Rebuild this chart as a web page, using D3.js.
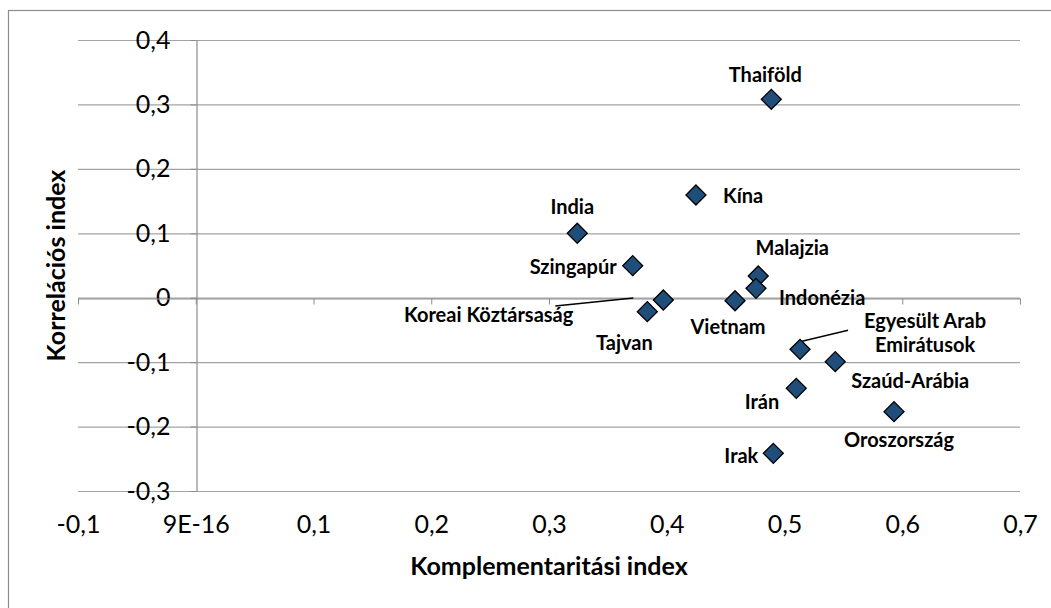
<!DOCTYPE html>
<html>
<head>
<meta charset="utf-8">
<script src="https://cdn.jsdelivr.net/npm/d3@7/dist/d3.min.js"></script>
<style>
  body { margin: 0; background: #fff; }
  svg { display: block; font-family: "Lato", "Open Sans", sans-serif; }
  .tickText text { font-size: 25px; fill: #000; }
  .lbl { font-size: 20px; font-weight: bold; fill: #000; }
  .axTitle { font-size: 25px; font-weight: bold; fill: #000; }
</style>
</head>
<body>
<div id="chart"></div>
<script>
// data
const countries = ["Thaiföld", "Kína", "India", "Szingapúr", "Koreai Köztársaság", "Tajvan",
  "Malajzia", "Indonézia", "Vietnam", "Egyesült Arab Emirátusok", "Szaúd-Arábia", "Irán",
  "Oroszország", "Irak"];
const complementarity = [0.4888, 0.4248, 0.324, 0.3711, 0.3971, 0.3835,
  0.4777, 0.4758, 0.458, 0.5132, 0.5431, 0.51, 0.593, 0.4905];
const correlation = [0.3079, 0.1594, 0.1, 0.0497, -0.0036, -0.0217,
  0.0337, 0.0146, -0.0047, -0.0801, -0.0993, -0.1406, -0.1769, -0.2415];

const xTicks = [-0.1, 0, 0.1, 0.2, 0.3, 0.4, 0.5, 0.6, 0.7];
const xTickLabels = ["-0,1", "9E-16", "0,1", "0,2", "0,3", "0,4", "0,5", "0,6", "0,7"];
const yTicks = [-0.3, -0.2, -0.1, 0, 0.1, 0.2, 0.3, 0.4];
const yTickLabels = ["-0,3", "-0,2", "-0,1", "0", "0,1", "0,2", "0,3", "0,4"];

// label placement relative to each marker: [dx, dy, anchor]
const labelPos = {
  "Thaiföld": [-6, -17, "middle"],
  "Kína": [27, 8, "start"],
  "India": [-5, -19, "middle"],
  "Szingapúr": [-16, 8, "end"],
  "Koreai Köztársaság": [-90, 22, "end"],
  "Tajvan": [-23, 38, "middle"],
  "Malajzia": [34, -21, "middle"],
  "Indonézia": [23, 17, "start"],
  "Vietnam": [-7, 33, "middle"],
  "Egyesült Arab Emirátusok": [125, -21, "middle"],
  "Szaúd-Arábia": [75, 26, "middle"],
  "Irán": [-17, 21, "end"],
  "Oroszország": [5, 35, "middle"],
  "Irak": [-15, 10, "end"]
};
// leader lines [x1, y1, x2, y2] relative to the marker
const leaders = {
  "Koreai Köztársaság": [-108, 6, -30, -2],
  "Egyesült Arab Emirátusok": [2, -8, 48, -19]
};

const W = 1051, H = 608;
const plot = { left: 78, right: 1020, top: 40, bottom: 491 };

const svg = d3.select("#chart").append("svg")
  .attr("width", W)
  .attr("height", H);

svg.append("rect").attr("width", W).attr("height", H).attr("fill", "#fff");
// outer chart border (runs off the right and bottom edge)
svg.append("rect")
  .attr("x", 8.5).attr("y", 10.5)
  .attr("width", W).attr("height", H)
  .attr("fill", "none").attr("stroke", "#8c8c8c").attr("stroke-width", 1.2);

const x = d3.scaleLinear().domain([-0.1, 0.7]).range([plot.left, plot.right]);
const y = d3.scaleLinear().domain([-0.3, 0.4]).range([plot.bottom, plot.top]);

// horizontal gridlines
svg.append("g")
  .attr("transform", `translate(${plot.left},0)`)
  .call(d3.axisLeft(y).tickValues(yTicks).tickSize(-(plot.right - plot.left)).tickFormat(""))
  .call(g => g.select(".domain").remove())
  .call(g => g.selectAll("line").attr("stroke", "#a3a3a3").attr("stroke-width", 1.2));

// vertical axis at x = 0
const yAxisG = svg.append("g")
  .attr("class", "tickText")
  .attr("transform", `translate(${Math.round(x(0)) + 0.5},0)`)
  .call(d3.axisLeft(y).tickValues(yTicks).tickSize(6).tickSizeOuter(0).tickPadding(20)
    .tickFormat((d, i) => yTickLabels[i]))
  .attr("font-family", null)
  .attr("font-size", null);
yAxisG.select(".domain").attr("stroke", "#8c8c8c").attr("stroke-width", 1.2);
yAxisG.selectAll("line").attr("stroke", "#8c8c8c");

// horizontal axis at y = 0 (tick marks only)
const xAxisG = svg.append("g")
  .attr("transform", `translate(0,${Math.round(y(0)) + 0.5})`)
  .call(d3.axisBottom(x).tickValues(xTicks).tickSize(6).tickSizeOuter(0).tickFormat(""));
xAxisG.select(".domain").attr("stroke", "#8c8c8c").attr("stroke-width", 1.2);
xAxisG.selectAll("line").attr("stroke", "#8c8c8c");

// x tick labels sit below the plot
svg.append("g")
  .attr("class", "tickText")
  .attr("transform", `translate(0,${plot.bottom})`)
  .call(d3.axisBottom(x).tickValues(xTicks).tickSize(0).tickPadding(24)
    .tickFormat((d, i) => xTickLabels[i]))
  .attr("font-family", null)
  .attr("font-size", null)
  .call(g => g.select(".domain").remove());

// axis titles
svg.append("text")
  .attr("class", "axTitle")
  .attr("x", (plot.left + plot.right) / 2)
  .attr("y", 575)
  .attr("text-anchor", "middle")
  .text("Komplementaritási index");

svg.append("text")
  .attr("class", "axTitle")
  .attr("transform", `translate(65,${(plot.top + plot.bottom) / 2}) rotate(-90)`)
  .attr("text-anchor", "middle")
  .text("Korrelációs index");

const points = countries.map((c, i) => ({
  name: c,
  px: x(complementarity[i]),
  py: y(correlation[i])
}));

// leader lines
svg.append("g")
  .selectAll("line")
  .data(points.filter(d => leaders[d.name]))
  .join("line")
  .attr("x1", d => d.px + leaders[d.name][0])
  .attr("y1", d => d.py + leaders[d.name][1])
  .attr("x2", d => d.px + leaders[d.name][2])
  .attr("y2", d => d.py + leaders[d.name][3])
  .attr("stroke", "#000")
  .attr("stroke-width", 1.5);

// diamond markers
const diamond = d3.symbol().type(d3.symbolSquare).size(200);
svg.append("g")
  .selectAll("path")
  .data(points)
  .join("path")
  .attr("d", diamond)
  .attr("transform", d => `translate(${d.px},${d.py}) rotate(45)`)
  .attr("fill", "#1f4e7a")
  .attr("stroke", "#000")
  .attr("stroke-width", 1.3);

// data labels
const labels = svg.append("g")
  .selectAll("text")
  .data(points)
  .join("text")
  .attr("class", "lbl")
  .attr("x", d => d.px + labelPos[d.name][0])
  .attr("y", d => d.py + labelPos[d.name][1])
  .attr("text-anchor", d => labelPos[d.name][2]);

labels.each(function (d) {
  const t = d3.select(this);
  if (d.name === "Egyesült Arab Emirátusok") {
    t.append("tspan").attr("x", t.attr("x")).text("Egyesült Arab");
    t.append("tspan").attr("x", t.attr("x")).attr("dy", 24).text("Emirátusok");
  } else {
    t.text(d.name);
  }
});
</script>
</body>
</html>
